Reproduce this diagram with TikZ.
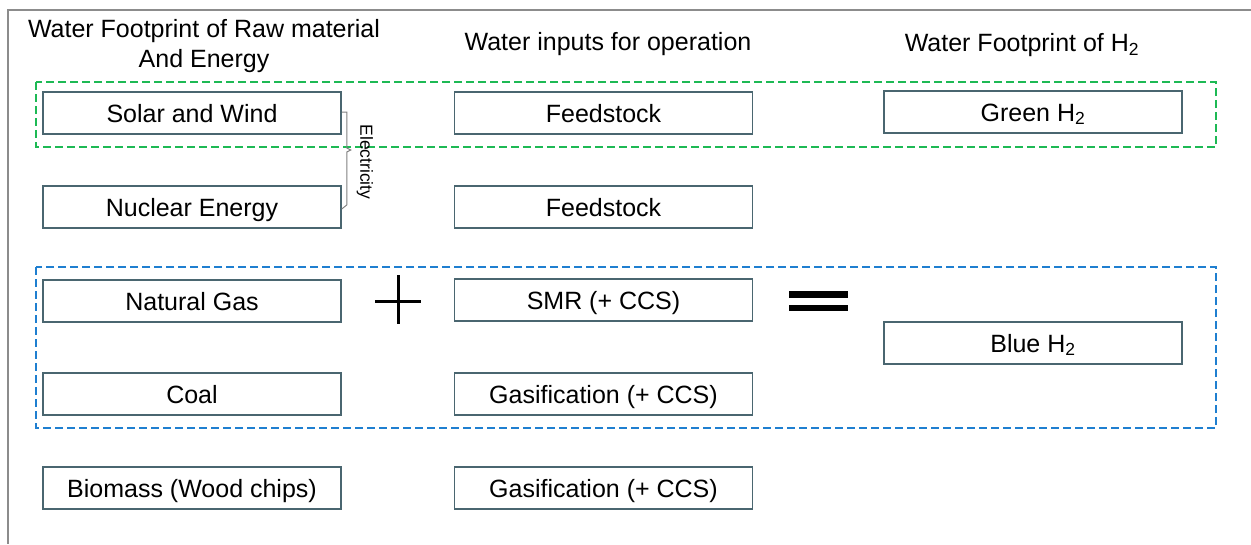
\documentclass[tikz,border=0pt]{standalone}
\usepackage{fontspec}
\setmainfont{Liberation Sans}
\usetikzlibrary{positioning, calc}

\definecolor{boxline}{HTML}{4A6670}
\definecolor{grnline}{HTML}{1DB954}
\definecolor{bluline}{HTML}{1F7FD0}

\begin{document}
\begin{tikzpicture}[
  x=1pt, y=-1pt,
  font=\fontsize{25}{30}\selectfont,
  item/.style={draw=boxline, line width=1.5pt, minimum width=298pt,
               minimum height=42pt, inner sep=0pt, align=center,
               text height=18pt, text depth=0pt},
  head/.style={align=center, inner sep=0pt},
  grp/.style={dashed, dash pattern=on 8pt off 4pt, line width=1.8pt}
]
  \useasboundingbox (0,0) rectangle (1251,544);
  \def\xA{192} \def\xB{603.5} \def\xC{1033}

  %--- outer frame ---
  \draw[gray!90, line width=1.5pt] (1251,10) -- (8,10) -- (8,544);

  %--- column headers ---
  \node[head] (hraw) at (204,46) {Water Footprint of Raw material\\And Energy};
  \node[head] (hop)  at (608,44) {Water inputs for operation};
  \node[head] (hh2)  at (1022,45) {Water Footprint of H\textsubscript{2}};

  %--- raw material and energy ---
  \node[item] (solar)   at (\xA,113) {Solar and Wind};
  \node[item] (nuclear) at (\xA,207) {Nuclear Energy};
  \node[item] (gas)     at (\xA,301) {Natural Gas};
  \node[item] (coal)    at (\xA,394) {Coal};
  \node[item] (bio)     at (\xA,488) {Biomass (Wood chips)};

  %--- operation ---
  \node[item] (feed1) at (\xB,113) {Feedstock};
  \node[item] (feed2) at (\xB,207) {Feedstock};
  \node[item] (smr)   at (\xB,300) {SMR (+ CCS)};
  \node[item] (gasi1) at (\xB,394) {Gasification (+ CCS)};
  \node[item] (gasi2) at (\xB,488) {Gasification (+ CCS)};

  %--- hydrogen ---
  \node[item] (green) at (\xC,112) {Green H\textsubscript{2}};
  \node[item] (blue)  at (\xC,343) {Blue H\textsubscript{2}};

  %--- groups ---
  \draw[grp, grnline] (36,82) rectangle (1216,147);
  \draw[grp, bluline] (36,267) rectangle (1216,428);

  %--- electricity brace ---
  \draw[gray, line width=1pt]
    ([yshift=1pt]solar.east) -- ++(5,0) -- ++(0,36) -- ++(4,2) -- ++(-4,2)
    -- ($(nuclear.east)+(5,-2)$) -- ([yshift=-2pt]nuclear.east);
  \node[rotate=-90, font=\fontsize{17.5}{20}\selectfont, inner sep=0pt]
    (elec) at (365,162) {Electricity};

  %--- plus and equals ---
  \draw[line width=3pt] (375,301) -- (421,301) (398,275) -- (398,324);
  \fill (789,291) rectangle (848,297.5);
  \fill (789,304.5) rectangle (848,311);

\end{tikzpicture}
\end{document}
